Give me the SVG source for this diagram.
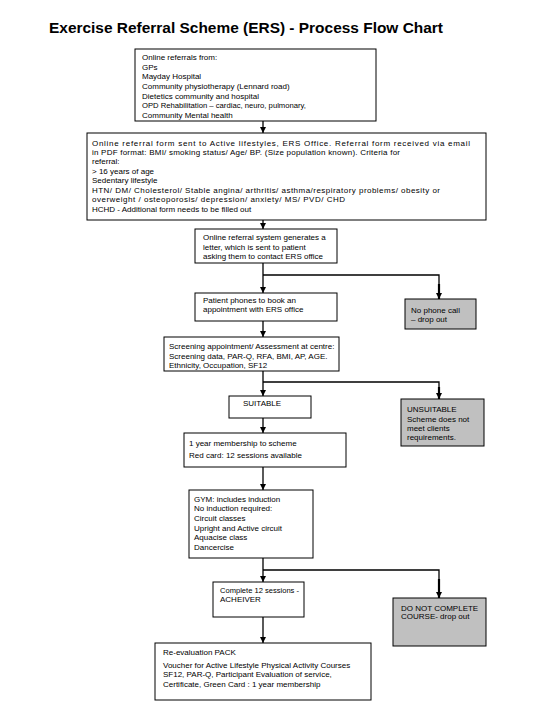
<svg xmlns="http://www.w3.org/2000/svg" width="540" height="720" viewBox="0 0 540 720">
<defs>
<marker id="ah" viewBox="0 0 10 10" refX="10" refY="5" markerWidth="6" markerHeight="6" markerUnits="userSpaceOnUse" orient="auto">
<path d="M0,0 L10,5 L0,10 z" fill="#000"/>
</marker>
<style>
.box{fill:#fff;stroke:#000;stroke-width:1}
.gray{fill:#c0c0c0;stroke:#000;stroke-width:1}
.t{font-family:"Liberation Sans",Arial,sans-serif;font-size:8px;fill:#000}
.title{font-family:"Liberation Sans",Arial,sans-serif;font-size:15px;font-weight:bold;fill:#000}
.c{fill:none;stroke:#000;stroke-width:1.3}
.c2{fill:none;stroke:#000;stroke-width:2.2}
</style>
</defs>
<rect width="540" height="720" fill="#fff"/>
<text class="title" x="49" y="33" textLength="394" lengthAdjust="spacingAndGlyphs">Exercise Referral Scheme (ERS) - Process Flow Chart</text>

<g id="connectors">
<path class="c" d="M263,121 V133" marker-end="url(#ah)"/>
<path class="c" d="M263,220 V229" marker-end="url(#ah)"/>
<path class="c" d="M263,263 V293" marker-end="url(#ah)"/>
<path class="c" d="M263,275 H439 V285"/>
<path class="c2" d="M439,284 V299" marker-end="url(#ah)"/>
<path class="c" d="M263,321 V337" marker-end="url(#ah)"/>
<path class="c" d="M263,371 V396" marker-end="url(#ah)"/>
<path class="c" d="M263,382 H439 V388"/>
<path class="c2" d="M439,387 V399" marker-end="url(#ah)"/>
<path class="c" d="M263,418 V433" marker-end="url(#ah)"/>
<path class="c" d="M263,467 V490" marker-end="url(#ah)"/>
<path class="c" d="M263,558 V582" marker-end="url(#ah)"/>
<path class="c" d="M263,570 H439 V580"/>
<path class="c2" d="M439,579 V598" marker-end="url(#ah)"/>
<path class="c" d="M263,617 V643" marker-end="url(#ah)"/>
</g>

<g id="n1">
<rect class="box" x="135" y="49" width="241" height="72"/>
<text class="t" x="142" y="60">Online referrals from:</text>
<text class="t" x="142" y="69.5">GPs</text>
<text class="t" x="142" y="79">Mayday Hospital</text>
<text class="t" x="142" y="89">Community physiotherapy (Lennard road)</text>
<text class="t" x="142" y="98.5">Dietetics community and hospital</text>
<text class="t" x="142" y="108" textLength="164" lengthAdjust="spacingAndGlyphs">OPD Rehabilitation – cardiac, neuro, pulmonary,</text>
<text class="t" x="142" y="117.5">Community Mental health</text>
</g>

<g id="n2">
<rect class="box" x="87" y="133" width="399" height="87"/>
<text class="t" x="92" y="145.5" textLength="378" lengthAdjust="spacing">Online referral form sent to Active lifestyles, ERS Office. Referral form received via email</text>
<text class="t" x="92" y="154.5" textLength="308" lengthAdjust="spacing">in PDF format: BMI/ smoking status/ Age/ BP. (Size population known). Criteria for</text>
<text class="t" x="92" y="164">referral:</text>
<text class="t" x="92" y="173.5">&gt; 16 years of age</text>
<text class="t" x="92" y="183">Sedentary lifestyle</text>
<text class="t" x="92" y="193" textLength="348" lengthAdjust="spacing">HTN/ DM/ Cholesterol/ Stable angina/ arthritis/ asthma/respiratory problems/ obesity or</text>
<text class="t" x="92" y="202" textLength="253" lengthAdjust="spacing">overweight / osteoporosis/ depression/ anxiety/ MS/ PVD/ CHD</text>
<text class="t" x="92" y="212">HCHD - Additional form needs to be filled out</text>
</g>

<g id="n3">
<rect class="box" x="195" y="229" width="142" height="34"/>
<text class="t" x="203" y="240">Online referral system generates a</text>
<text class="t" x="203" y="249.5">letter, which is sent to patient</text>
<text class="t" x="203" y="259">asking them to contact ERS office</text>
</g>

<g id="n4">
<rect class="box" x="195" y="293" width="142" height="28"/>
<text class="t" x="203" y="303">Patient phones to book an</text>
<text class="t" x="203" y="312">appointment with ERS office</text>
</g>

<g id="n5">
<rect class="gray" x="405" y="299" width="71" height="30"/>
<text class="t" x="411" y="313">No phone call</text>
<text class="t" x="411" y="322">– drop out</text>
</g>

<g id="n6">
<rect class="box" x="164" y="337" width="175" height="34"/>
<text class="t" x="169" y="349">Screening appointment/ Assessment at centre:</text>
<text class="t" x="169" y="358.5">Screening data, PAR-Q, RFA, BMI, AP, AGE.</text>
<text class="t" x="169" y="368">Ethnicity, Occupation, SF12</text>
</g>

<g id="n7">
<rect class="box" x="229" y="396" width="82" height="22"/>
<text class="t" x="243" y="405.5">SUITABLE</text>
</g>

<g id="n8">
<rect class="gray" x="401" y="399" width="83" height="47"/>
<text class="t" x="407" y="412">UNSUITABLE</text>
<text class="t" x="407" y="421.5">Scheme does not</text>
<text class="t" x="407" y="431">meet clients</text>
<text class="t" x="407" y="440">requirements.</text>
</g>

<g id="n9">
<rect class="box" x="184" y="433" width="162" height="34"/>
<text class="t" x="189" y="446">1 year membership to scheme</text>
<text class="t" x="189" y="458">Red card: 12 sessions available</text>
</g>

<g id="n10">
<rect class="box" x="189" y="490" width="124" height="68"/>
<text class="t" x="194" y="501.5">GYM: includes induction</text>
<text class="t" x="194" y="511">No induction required:</text>
<text class="t" x="194" y="521">Circuit classes</text>
<text class="t" x="194" y="530.5">Upright and Active circuit</text>
<text class="t" x="194" y="540">Aquacise class</text>
<text class="t" x="194" y="549.5">Dancercise</text>
</g>

<g id="n11">
<rect class="box" x="213" y="582" width="91" height="35"/>
<text class="t" x="220" y="593" textLength="79" lengthAdjust="spacingAndGlyphs">Complete 12 sessions -</text>
<text class="t" x="220" y="601.5">ACHEIVER</text>
</g>

<g id="n12">
<rect class="gray" x="393" y="598" width="93" height="48"/>
<text class="t" x="401" y="611">DO NOT COMPLETE</text>
<text class="t" x="401" y="619">COURSE- drop out</text>
</g>

<g id="n13">
<rect class="box" x="155" y="643" width="216" height="57"/>
<text class="t" x="163" y="655">Re-evaluation  PACK</text>
<text class="t" x="163" y="667.5">Voucher for Active Lifestyle Physical Activity Courses</text>
<text class="t" x="163" y="677">SF12, PAR-Q, Participant Evaluation of service,</text>
<text class="t" x="163" y="686.5">Certificate, Green Card : 1 year membership</text>
</g>
</svg>
